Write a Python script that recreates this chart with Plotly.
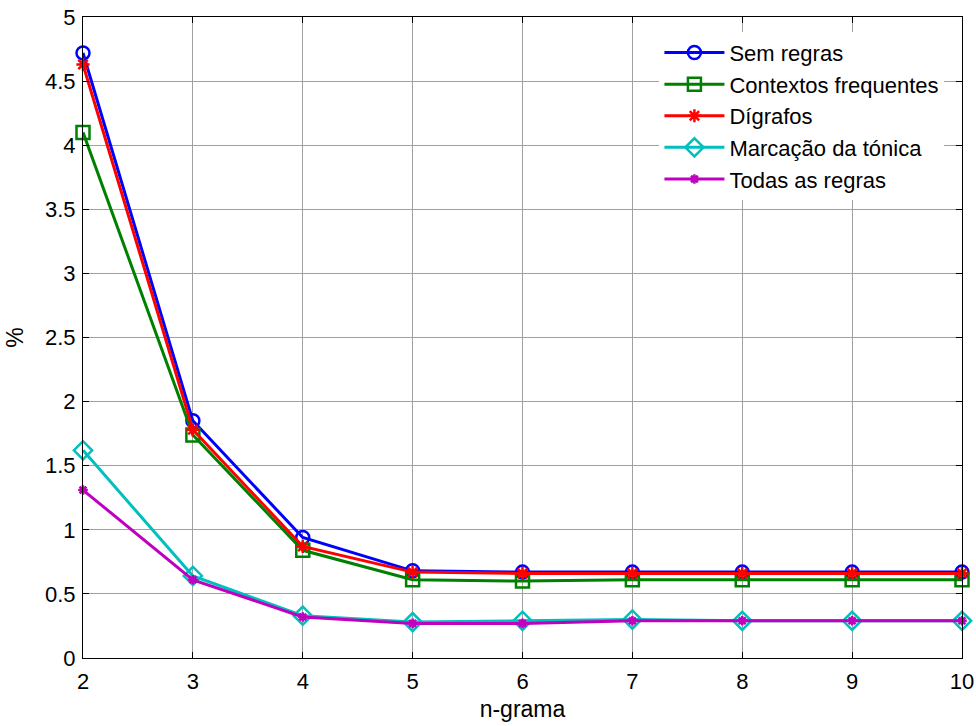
import plotly.graph_objects as go

ngram = [2, 3, 4, 5, 6, 7, 8, 9, 10]
sem_regras = [4.72, 1.85, 0.94, 0.68, 0.67, 0.67, 0.67, 0.67, 0.67]
contextos = [4.10, 1.74, 0.84, 0.61, 0.60, 0.61, 0.61, 0.61, 0.61]
digrafos = [4.63, 1.78, 0.87, 0.67, 0.66, 0.66, 0.66, 0.66, 0.66]
marcacao = [1.62, 0.64, 0.33, 0.28, 0.29, 0.30, 0.29, 0.29, 0.29]
todas = [1.31, 0.61, 0.32, 0.27, 0.27, 0.29, 0.29, 0.29, 0.29]

names = ["Sem regras", "Contextos frequentes", "Dígrafos", "Marcação da tónica", "Todas as regras"]
series = [sem_regras, contextos, digrafos, marcacao, todas]
colors = ["#0000FF", "#008000", "#FF0000", "#00BFBF", "#BF00BF"]
symbols = ["circle-open", "square-open", "asterisk-open", "diamond-open", "asterisk-open"]
sizes = [13, 13, 11, 14, 8]

fig = go.Figure()
for n, y, c, s, sz in zip(names, series, colors, symbols, sizes):
    fig.add_trace(go.Scatter(
        x=ngram, y=y, name=n, mode="lines+markers",
        line=dict(color=c, width=3),
        marker=dict(symbol=s, size=sz, color=c, line=dict(color=c, width=2.5)),
        cliponaxis=False,
    ))

font = "Liberation Sans, Arial, sans-serif"
axis_common = dict(
    showline=True, linecolor="black", linewidth=1.2, mirror="allticks",
    ticks="inside", ticklen=6, tickcolor="black",
    showgrid=True, gridcolor="#A0A0A0", gridwidth=1,
    zeroline=False, automargin=False,
    tickfont=dict(family=font, size=22, color="black"),
)
fig.update_xaxes(range=[2, 10], dtick=1, tick0=2, ticklabelstandoff=3,
                 title=dict(text="n-grama", font=dict(family=font, size=23, color="black"), standoff=8),
                 **axis_common)
fig.update_yaxes(range=[0, 5], dtick=0.5, tick0=0, ticklabelstandoff=2,
                 title=dict(text="%", font=dict(family=font, size=23, color="black"), standoff=14),
                 **axis_common)

fig.update_layout(
    width=976, height=726,
    margin=dict(l=83, r=14, t=17, b=68),
    paper_bgcolor="white", plot_bgcolor="white",
    showlegend=True,
    legend=dict(
        x=0.98, y=0.977, xanchor="right", yanchor="top",
        bgcolor="white", borderwidth=0,
        font=dict(family=font, size=22, color="black"),
        itemwidth=60,
    ),
)

fig.write_html("out.html")
